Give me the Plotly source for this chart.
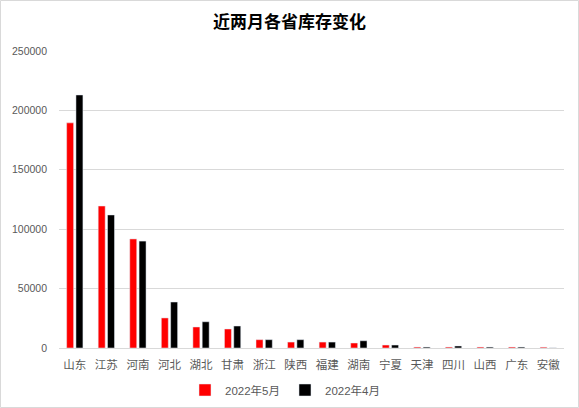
import plotly.graph_objects as go

provinces = ["山东", "江苏", "河南", "河北", "湖北", "甘肃", "浙江", "陕西", "福建",
             "湖南", "宁夏", "天津", "四川", "山西", "广东", "安徽"]
may_2022 = [189500, 119500, 91800, 25300, 17700, 16000, 7000, 5000, 5000,
            4200, 2500, 800, 800, 800, 800, 700]
apr_2022 = [213000, 112000, 90000, 38700, 22100, 18500, 7000, 7000, 5000,
            6100, 2500, 800, 1700, 800, 800, 100]

font_main = "Liberation Sans, Noto Sans CJK SC, sans-serif"

L, R, T, B = 59, 15, 51, 60
PW, PH = 579 - L - R, 408 - T - B

fig = go.Figure()
fig.add_trace(go.Bar(x=provinces, y=may_2022, name="2022年5月", marker_color="#FF0000"))
fig.add_trace(go.Bar(x=provinces, y=apr_2022, name="2022年4月", marker_color="#000000"))

fig.update_layout(
    width=579, height=408,
    margin=dict(l=L, r=R, t=T, b=B, autoexpand=False),
    paper_bgcolor="white", plot_bgcolor="white",
    barmode="group", bargap=0.41, bargroupgap=0.25,
    title=dict(text="<b>近两月各省库存变化</b>", x=0.5, xanchor="center",
               y=1 - 22 / 408, yanchor="middle", yref="container",
               font=dict(family="Noto Sans CJK SC, sans-serif", size=17, color="#000000")),
    font=dict(family=font_main, size=11, color="#595959"),
    showlegend=True,
    legend=dict(orientation="h", x=(285 - L) / PW, xanchor="center", y=-42 / PH, yanchor="middle",
                font=dict(size=11.5, color="#595959"), itemwidth=30, traceorder="normal",
                bgcolor="rgba(0,0,0,0)"),
    xaxis=dict(showgrid=False, showline=True, linecolor="#D9D9D9", linewidth=1,
               ticks="", ticklabelstandoff=6,
               tickfont=dict(family="Noto Sans CJK SC, sans-serif", size=11.5, color="#595959")),
    yaxis=dict(range=[0, 250000], dtick=50000, showgrid=True, gridcolor="#D9D9D9", gridwidth=1,
               zeroline=False, showline=False, ticks="", tickformat="d", ticklabelstandoff=11,
               tickfont=dict(size=10.5, color="#595959")),
    shapes=[dict(type="rect", xref="paper", yref="paper", x0=-(L - 0.5) / PW, x1=1 + (R - 0.5) / PW,
                 y0=-(B - 0.5) / PH, y1=1 + (T - 0.5) / PH, line=dict(color="#D9D9D9", width=1))],
)

fig.write_html("out.html", config={"displayModeBar": False},
               post_script="document.body.style.margin='0';document.body.style.overflow='hidden';")
